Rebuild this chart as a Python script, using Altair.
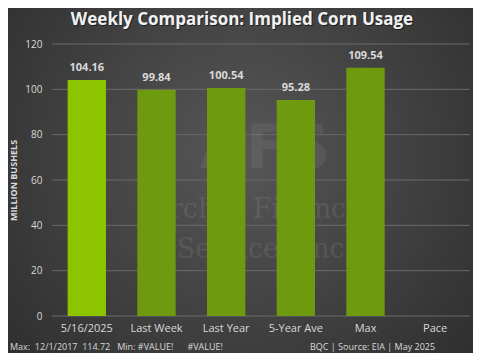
import altair as alt
import pandas as pd

categories = ["5/16/2025", "Last Week", "Last Year", "5-Year Ave", "Max", "Pace"]
values = [104.16, 99.84, 100.54, 95.28, 109.54, None]
highlight = [True, False, False, False, False, False]
y_ticks = [0, 20, 40, 60, 80, 100, 120]
title_text = "Weekly Comparison: Implied Corn Usage"
footer_left = "Max:\u00a0\u00a012/1/2017\u00a0\u00a0114.72\u00a0\u00a0\u00a0Min:\u00a0#VALUE!\u00a0\u00a0\u00a0\u00a0\u00a0\u00a0#VALUE!"
footer_right = "BQC | Source: EIA | May 2025"

df = pd.DataFrame({"cat": categories, "val": values, "hl": highlight})
df["label"] = [f"{v:.2f}" if v is not None else "" for v in values]

W, H = 418, 272

yscale = alt.Scale(domain=[0, 120], nice=False)
yaxis = alt.Axis(values=y_ticks, labelColor="#d9d9d9", labelFontSize=10,
                 labelFont="Open Sans", ticks=False, domain=False, grid=False,
                 labelPadding=10, zindex=2,
                 titleColor="#d9d9d9", titleFontSize=9, titleFont="Open Sans",
                 titleFontWeight="bold", titlePadding=6)

x = alt.X("cat:N", sort=categories, title=None,
          scale=alt.Scale(paddingInner=0.45, paddingOuter=0.225),
          axis=alt.Axis(labelAngle=0, labelColor="#d9d9d9", labelFontSize=11,
                        labelFont="Open Sans", ticks=False, domain=False, labelPadding=6,
                        zindex=2))

bg = alt.Chart(pd.DataFrame({"a": [0]})).mark_rect(
    fill={"gradient": "radial", "x1": 0.5, "y1": 0.45, "r1": 0,
          "x2": 0.5, "y2": 0.45, "r2": 0.75,
          "stops": [{"offset": 0, "color": "#575757"},
                    {"offset": 1, "color": "#262626"}]}
).encode(x=alt.value(-60), x2=alt.value(W + 20), y=alt.value(-50), y2=alt.value(H + 50))

grid = alt.Chart(pd.DataFrame({"val": y_ticks})).mark_rule(color="#6a6a6a", strokeWidth=1).encode(
    y=alt.Y("val:Q", scale=yscale, axis=yaxis, title="MILLION BUSHELS")
)

wm = alt.Chart(pd.DataFrame({"t": ["Archer Financial", "Services Inc."], "yy": [166, 206]})).mark_text(
    font="DejaVu Serif", fontSize=27, color="#ffffff", opacity=0.08
).encode(x=alt.value(213), y=alt.Y("yy:Q", scale=None), text="t:N")

wm_logo = alt.Chart(pd.DataFrame({"t": ["AFS"]})).mark_text(
    font="DejaVu Sans", fontSize=60, fontWeight="bold", color="#ffffff", opacity=0.06
).encode(x=alt.value(213), y=alt.value(106), text="t:N")

bars = alt.Chart(df).mark_bar().encode(
    x=x, y=alt.Y("val:Q", scale=yscale, axis=yaxis, title="MILLION BUSHELS"),
    color=alt.Color("hl:N", scale=alt.Scale(domain=[True, False], range=["#8cc400", "#6e9a10"]), legend=None)
)

labels = alt.Chart(df).mark_text(
    dy=-12, color="#d9d9d9", fontSize=11, fontWeight="bold", font="Open Sans"
).encode(x=alt.X("cat:N", sort=categories), y="val:Q", text="label:N")

tdf = pd.DataFrame({"t": [title_text]})
title_shadow = alt.Chart(tdf).mark_text(
    font="Open Sans", fontSize=17, fontWeight="bold", color="#111111", opacity=0.7
).encode(x=alt.value(W / 2 - 18), y=alt.value(-23), text="t:N")
title = alt.Chart(tdf).mark_text(
    font="Open Sans", fontSize=17, fontWeight="bold", color="#f2f2f2"
).encode(x=alt.value(W / 2 - 19), y=alt.value(-24), text="t:N")

foot_left = alt.Chart(pd.DataFrame({"t": [footer_left]})).mark_text(
    align="left", fontSize=9, color="#d9d9d9", font="Open Sans"
).encode(x=alt.value(-42), y=alt.value(303), text="t:N")

foot_right = alt.Chart(pd.DataFrame({"t": [footer_right]})).mark_text(
    align="left", fontSize=9, color="#d9d9d9", font="Open Sans"
).encode(x=alt.value(258), y=alt.value(303), text="t:N")

chart = alt.layer(bg, grid, wm_logo, wm, bars, labels, title_shadow, title,
                  foot_left, foot_right).properties(
    width=W, height=H,
    autosize=alt.AutoSizeParams(type="none"),
    padding={"left": 44, "top": 36, "right": 3, "bottom": 37},
    background="#2e2e2e"
).configure_view(stroke=None)

chart.save("out.html", embed_options={"renderer": "svg", "actions": False})
